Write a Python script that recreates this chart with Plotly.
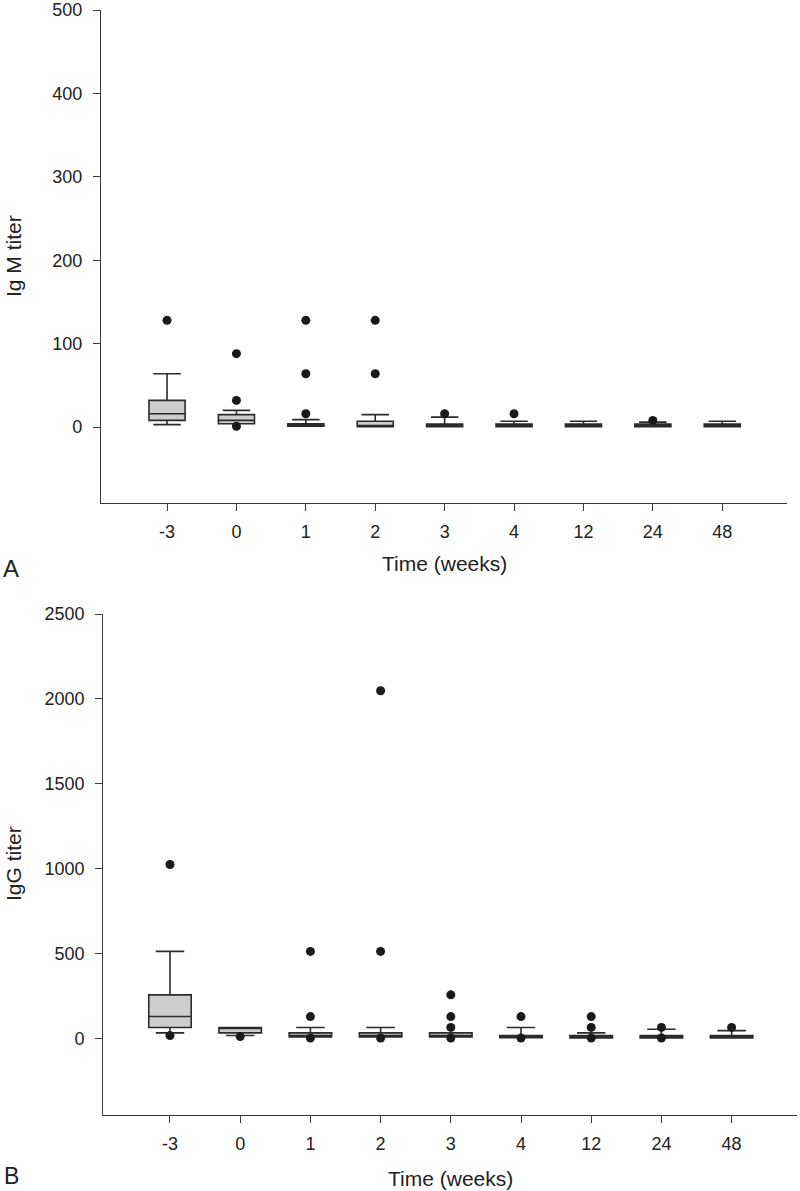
import plotly.graph_objects as go

categories = ["-3", "0", "1", "2", "3", "4", "12", "24", "48"]

# Panel A: IgM titer box statistics
igm_q1 = [8, 4, 1, 0.5, 0.5, 0.5, 0.5, 0.5, 0.5]
igm_median = [16, 8, 2, 1, 2, 2, 2, 2, 2]
igm_q3 = [32, 15, 4, 7, 3.5, 3.5, 3.5, 3.5, 3.5]
igm_lower = [3, 4, 1, 0.5, 0.5, 0.5, 0.5, 0.5, 0.5]
igm_upper = [64, 20, 9, 15, 12, 7, 7, 6, 7]
igm_outliers = {
    "-3": [128],
    "0": [88, 32, 1],
    "1": [128, 64, 16],
    "2": [128, 64],
    "3": [16],
    "4": [16],
    "12": [],
    "24": [8],
    "48": [],
}

# Panel B: IgG titer box statistics
igg_q1 = [64, 32, 8, 8, 8, 4, 2, 2, 2]
igg_median = [128, 64, 16, 16, 16, 8, 8, 8, 8]
igg_q3 = [256, 64, 32, 32, 32, 16, 16, 16, 16]
igg_lower = [32, 16, 8, 8, 8, 4, 2, 2, 2]
igg_upper = [512, 64, 64, 64, 32, 64, 32, 53, 45]
igg_outliers = {
    "-3": [1024, 16],
    "0": [10],
    "1": [512, 128, 2],
    "2": [2048, 512, 2],
    "3": [256, 128, 64, 2],
    "4": [128, 2],
    "12": [128, 64, 2],
    "24": [64, 2],
    "48": [64],
}

positions = list(range(len(categories)))
LINE = "#2b2b2b"
FILL = "#cdcdcd"
AXIS = "#3a3a3a"
FONT = "Liberation Sans, Arial, Helvetica, sans-serif"


def outlier_xy(outliers):
    xs, ys = [], []
    for i, c in enumerate(categories):
        for v in outliers[c]:
            xs.append(i)
            ys.append(v)
    return xs, ys


fig = go.Figure()

for (q1, med, q3, lo, up, outl, xa, ya, bw, ww) in [
    (igm_q1, igm_median, igm_q3, igm_lower, igm_upper, igm_outliers, "x", "y", 0.52, 0.76),
    (igg_q1, igg_median, igg_q3, igg_lower, igg_upper, igg_outliers, "x2", "y2", 0.605, 0.67),
]:
    fig.add_trace(go.Box(
        x=positions, q1=q1, median=med, q3=q3, lowerfence=lo, upperfence=up,
        boxpoints=False, width=bw, whiskerwidth=ww,
        fillcolor=FILL, line=dict(color=LINE, width=1.6),
        xaxis=xa, yaxis=ya, showlegend=False,
    ))
    ox, oy = outlier_xy(outl)
    fig.add_trace(go.Scatter(
        x=ox, y=oy, mode="markers",
        marker=dict(color="#1a1a1a", size=9, line=dict(width=0)),
        xaxis=xa, yaxis=ya, showlegend=False,
    ))

H = 1191.0
W = 800.0

common_x = dict(
    range=[-0.95, 8.93], tickmode="array", tickvals=positions, ticktext=categories,
    showline=True, linecolor=AXIS, linewidth=1.3, ticks="outside", ticklen=7,
    tickcolor=AXIS, tickwidth=1.3, showgrid=False, zeroline=False,
    ticklabelstandoff=5,
    tickfont=dict(family=FONT, size=18, color="#222"),
)
common_y = dict(
    showline=True, linecolor=AXIS, linewidth=1.3, ticks="outside", ticklen=7,
    tickcolor=AXIS, tickwidth=1.3, showgrid=False, zeroline=False,
    ticklabelstandoff=7,
    tickfont=dict(family=FONT, size=18, color="#222"),
)

fig.update_layout(
    width=800, height=1191,
    margin=dict(l=0, r=0, t=0, b=0, autoexpand=False),
    paper_bgcolor="white", plot_bgcolor="white",
    xaxis=dict(domain=[101.1 / W, 786.8 / W], anchor="y", **common_x),
    yaxis=dict(domain=[1 - 503 / H, 1 - 10 / H], anchor="x", range=[-91, 500],
               tickvals=[0, 100, 200, 300, 400, 500], **common_y),
    xaxis2=dict(domain=[103.3 / W, 796.9 / W], anchor="y2", **common_x),
    yaxis2=dict(domain=[1 - 1115 / H, 1 - 614 / H], anchor="x2", range=[-452, 2500],
                tickvals=[0, 500, 1000, 1500, 2000, 2500], **common_y),
)

ann_font = dict(family=FONT, size=21, color="#222")
annotations = [
    dict(text="Time (weeks)", x=444 / W, y=1 - 563 / H),
    dict(text="Time (weeks)", x=450 / W, y=1 - 1178 / H),
    dict(text="Ig M titer", x=13 / W, y=1 - 256 / H, textangle=-90),
    dict(text="IgG titer", x=13 / W, y=1 - 864 / H, textangle=-90),
]
for a in annotations:
    fig.add_annotation(xref="paper", yref="paper", xanchor="center", yanchor="middle",
                       showarrow=False, font=ann_font, **a)
fig.add_annotation(text="A", xref="paper", yref="paper", x=11 / W, y=1 - 568 / H,
                   xanchor="center", yanchor="middle", showarrow=False,
                   font=dict(family=FONT, size=24, color="#222"))
fig.add_annotation(text="B", xref="paper", yref="paper", x=11 / W, y=1 - 1176 / H,
                   xanchor="center", yanchor="middle", showarrow=False,
                   font=dict(family=FONT, size=23, color="#222"))

fig.write_html(
    "out.html",
    config={"displayModeBar": False},
    post_script="document.body.style.margin='0px';document.body.style.overflow='hidden';",
)
